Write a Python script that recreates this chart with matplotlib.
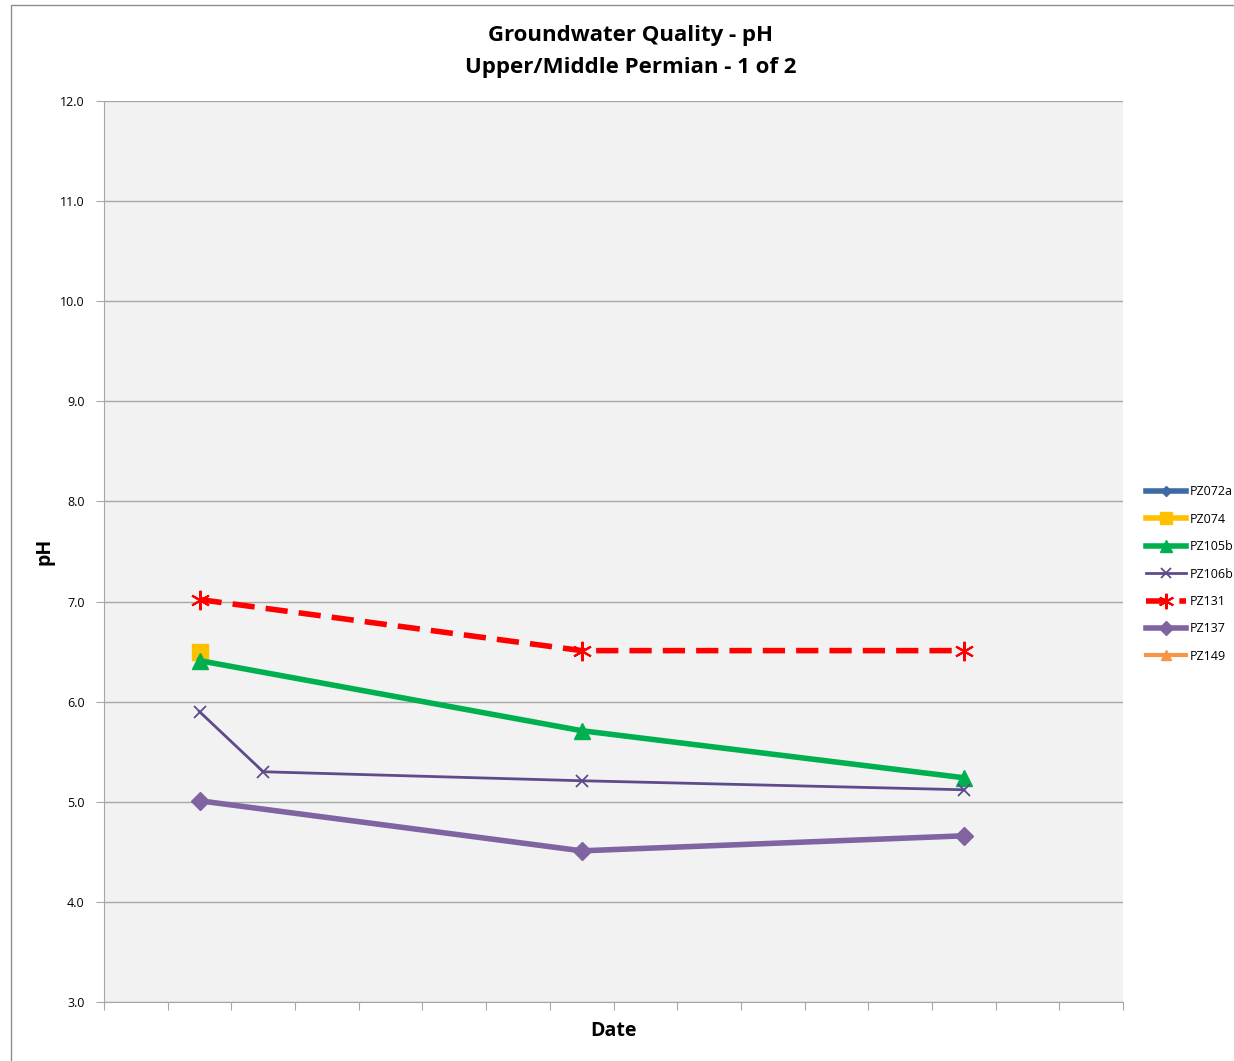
import numpy as np
import matplotlib
matplotlib.use("Agg")
import matplotlib.pyplot as plt
from matplotlib.patches import Rectangle

plt.rcParams['font.family'] = ['Open Sans', 'DejaVu Sans']

# sampling slots on the date axis (ticks at month boundaries, points mid-month)
n_slots = 16
wells = ["PZ072a", "PZ074", "PZ105b", "PZ106b", "PZ131", "PZ137", "PZ149"]
x_pz074 = [1.5]
ph_pz074 = [6.5]
x_pz105b = [1.5, 7.5, 13.5]
ph_pz105b = [6.41, 5.71, 5.24]
x_pz106b = [1.5, 2.5, 7.5, 13.5]
ph_pz106b = [5.9, 5.3, 5.21, 5.12]
x_pz131 = [1.5, 7.5, 13.5]
ph_pz131 = [7.02, 6.51, 6.51]
x_pz137 = [1.5, 7.5, 13.5]
ph_pz137 = [5.01, 4.51, 4.66]

W, H = 1234, 1061
fig = plt.figure(figsize=(W / 100, H / 100), dpi=100)
fig.patches.append(Rectangle((11 / W, -0.1), 1.2, 1 - 5 / H + 0.1, transform=fig.transFigure,
                             fill=False, edgecolor="#8c8c8c", linewidth=1))

ax = fig.add_axes([104 / W, 1 - 1002 / H, (1123 - 104) / W, (1002 - 101) / H])
ax.set_facecolor("#f2f2f2")

ax.plot([], [], color="#3d6aa3", lw=4, marker="D", ms=7, label="PZ072a")
ax.plot(x_pz074, ph_pz074, color="#ffc000", lw=4, marker="s", ms=11, label="PZ074", zorder=3)
ax.plot(x_pz105b, ph_pz105b, color="#00b050", lw=4, marker="^", ms=11, label="PZ105b", zorder=4)
ax.plot(x_pz106b, ph_pz106b, color="#5f4b8b", lw=2, marker="x", ms=9, mew=1.3, label="PZ106b", zorder=4)
ax.plot(x_pz131, ph_pz131, color="#ff0000", lw=4, ls=(0, (4, 2)), marker=(6, 2, 0), ms=14,
        mew=1.5, label="PZ131", zorder=4)
ax.plot(x_pz137, ph_pz137, color="#8064a2", lw=4, marker="D", ms=9, label="PZ137", zorder=4)
ax.plot([], [], color="#f79646", lw=3, marker="^", ms=9, label="PZ149")

ax.set_xlim(0, n_slots)
ax.set_ylim(3, 12)
ax.set_xticks(np.arange(0, n_slots + 1))
ax.set_xticklabels([])
ax.set_yticks(np.arange(3, 12.1, 1))
ax.set_yticklabels([f"{v:.1f}" for v in np.arange(3, 12.1, 1)], fontsize=9)
ax.yaxis.grid(True, color="#a6a6a6", lw=1)
ax.set_axisbelow(True)
for s in ["top", "right"]:
    ax.spines[s].set_visible(False)
for s in ["left", "bottom"]:
    ax.spines[s].set_color("#a6a6a6")
ax.tick_params(axis="both", color="#a6a6a6", length=6, direction="out")
ax.tick_params(axis="y", pad=8)

ax.set_xlabel("Date", fontsize=14, fontweight="bold", labelpad=4)
ax.set_ylabel("pH", fontsize=14, fontweight="bold", labelpad=4)
fig.text(631 / W, 1 - 35 / H, "Groundwater Quality - pH", ha="center", va="center",
         fontsize=16, fontweight="bold")
fig.text(631 / W, 1 - 67 / H, "Upper/Middle Permian - 1 of 2", ha="center", va="center",
         fontsize=16, fontweight="bold")

leg = ax.legend(loc="center left", bbox_to_anchor=(1.012, 0.475), frameon=False, fontsize=9,
                handlelength=3.2, labelspacing=1.15, handletextpad=0.3, markerscale=0.8)

fig.savefig("out.png", dpi=100)
